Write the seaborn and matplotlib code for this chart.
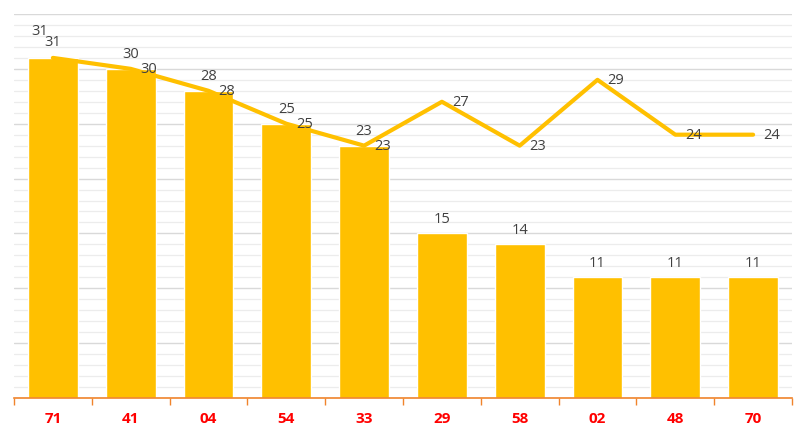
import matplotlib
matplotlib.use("Agg")
import matplotlib.pyplot as plt
import seaborn as sns
import numpy as np
from matplotlib.ticker import MultipleLocator, FixedLocator

categories = ["71", "41", "04", "54", "33", "29", "58", "02", "48", "70"]
bar_values = [31, 30, 28, 25, 23, 15, 14, 11, 11, 11]
line_values = [31, 30, 28, 25, 23, 27, 23, 29, 24, 24]

sns.set_theme(style="white")
plt.rcParams['font.family'] = ['Open Sans', 'DejaVu Sans']

fig = plt.figure(figsize=(8.06, 4.38), dpi=100)
ax = fig.add_axes([14/806, (438-398)/438, (792-14)/806, (398-14)/438])

gold = "#FFC000"
sns.barplot(x=categories, y=bar_values, color=gold, width=0.64, saturation=1, ax=ax, zorder=2)
xs = np.arange(len(categories))
sns.lineplot(x=xs, y=line_values, color=gold, linewidth=3, ax=ax, zorder=3, sort=False)

ax.set_xlim(-0.5, len(categories) - 0.5)
ax.set_ylim(0, 35)
ax.yaxis.set_major_locator(MultipleLocator(5))
ax.yaxis.set_minor_locator(MultipleLocator(1))
ax.grid(axis='y', which='major', color='#d9d9d9', linewidth=1, zorder=0)
ax.grid(axis='y', which='minor', color='#ececec', linewidth=0.9, zorder=0)
ax.set_axisbelow(True)
ax.tick_params(axis='y', which='both', left=False, labelleft=False)

for s in ['left', 'right', 'top']:
    ax.spines[s].set_visible(False)
ax.spines['bottom'].set_color('#f0842c')
ax.spines['bottom'].set_linewidth(1.2)

ax.xaxis.set_minor_locator(FixedLocator(np.arange(-0.5, len(categories), 1.0)))
ax.tick_params(axis='x', which='minor', length=5, color='#f0842c', width=1, direction='out', bottom=True)
ax.tick_params(axis='x', which='major', length=0, pad=10)
for lbl in ax.get_xticklabels():
    lbl.set_color('#ff0000')
    lbl.set_fontweight('bold')
    lbl.set_fontsize(11)
ax.set_xlabel("")
ax.set_ylabel("")

txtc = '#404040'
fs = 10.5
for i, v in enumerate(bar_values):
    off = (-13, 26) if i == 0 else (0, 14)
    ax.annotate(str(v), (i, v), xytext=off, textcoords='offset pixels',
                ha='center', va='center', fontsize=fs, color=txtc, zorder=5)
for i, v in enumerate(line_values):
    if i == 0:
        ax.annotate(str(v), (i, v), xytext=(0, 15), textcoords='offset pixels',
                    ha='center', va='center', fontsize=fs, color=txtc, zorder=5)
    else:
        ax.annotate(str(v), (i, v), xytext=(10, -1), textcoords='offset pixels',
                    ha='left', va='center', fontsize=fs, color=txtc, zorder=5)

fig.savefig("out.png", dpi=100)
